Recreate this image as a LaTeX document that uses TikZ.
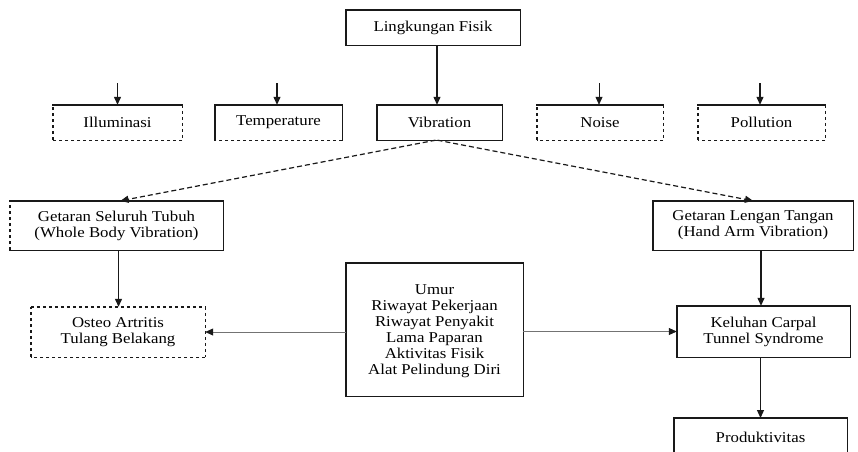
\documentclass[tikz,border=0pt]{standalone}
\usepackage{fontspec}
\setmainfont{Liberation Serif}[FakeStretch=1.12]
\usetikzlibrary{arrows.meta}

% draw the four sides of a node with separate styles: top, right, bottom, left
\newcommand\boxsides[5]{%
  \draw[#2] (#1.north west) -- (#1.north east);
  \draw[#3] (#1.north east) -- (#1.south east);
  \draw[#4] (#1.south east) -- (#1.south west);
  \draw[#5] (#1.south west) -- (#1.north west);
}

\tikzset{
  lbl/.style={inner sep=0pt, align=center, font=\fontsize{15}{16}\selectfont, text=black},
  sol/.style={line width=1.4pt, line cap=rect, draw=black!90},
  thk/.style={line width=2.2pt, line cap=rect, draw=black!90},
  dsh/.style={line width=1.4pt, dash pattern=on 3.5pt off 2.5pt, draw=black!90},
  arr/.style={line width=1.2pt, draw=black!90, -{Triangle[length=8pt,width=7pt]}},
  darr/.style={line width=1.2pt, draw=black!90, dash pattern=on 5pt off 3pt, -{Triangle[length=8pt,width=7pt]}},
  garr/.style={line width=0.7pt, draw=black!55, -{Triangle[length=8pt,width=7pt,color=black!90]}},
}

\begin{document}
\begin{tikzpicture}[x=1pt, y=-1pt]
\useasboundingbox (0,0) rectangle (858,451);
\fill[white] (0,0) rectangle (858,451);

% boxes
\node[lbl, minimum width=174pt, minimum height=35pt] (lf) at (433,27.5) {Lingkungan Fisik};
\node[lbl, minimum width=129pt, minimum height=35pt] (il) at (117.5,122.5) {Illuminasi};
\node[lbl, minimum width=127pt, minimum height=35pt] (te) at (278.5,122.5) {Temperature};
\node[lbl, minimum width=125pt, minimum height=35pt] (vi) at (439.5,122.5) {Vibration};
\node[lbl, minimum width=126pt, minimum height=35pt] (no) at (600,122.5) {Noise};
\node[lbl, minimum width=127pt, minimum height=35pt] (po) at (761.5,122.5) {Pollution};

\node[lbl, minimum width=213pt, minimum height=49pt] (gs) at (116.5,225.5) {Getaran Seluruh Tubuh\\(Whole Body Vibration)};
\node[lbl, minimum width=200pt, minimum height=49pt] (gl) at (753,225.5) {Getaran Lengan Tangan\\(Hand Arm Vibration)};

\node[lbl, minimum width=174pt, minimum height=50pt] (os) at (118,332) {Osteo Artritis\\Tulang Belakang};
\node[lbl, minimum width=177pt, minimum height=133pt] (cb) at (434.5,329.5) {};
\node[lbl] (cbt) at (434.5,331.5)
  {Umur\\Riwayat Pekerjaan\\Riwayat Penyakit\\Lama Paparan\\Aktivitas Fisik\\Alat Pelindung Diri};
\node[lbl, minimum width=173pt, minimum height=51pt] (ke) at (763.5,331.5) {Keluhan Carpal\\Tunnel Syndrome};
\node[lbl, minimum width=173pt, minimum height=52pt, anchor=north] (pr) at (760.5,418) {};
\node[lbl] (prt) at (760.5,437) {Produktivitas};

% borders
\boxsides{lf}{sol}{sol}{sol}{thk}
\boxsides{il}{sol}{dsh}{dsh}{dsh}
\boxsides{te}{sol}{sol}{dsh}{sol}
\boxsides{vi}{sol}{sol}{sol}{sol}
\boxsides{no}{sol}{dsh}{dsh}{dsh}
\boxsides{po}{sol}{dsh}{dsh}{dsh}
\boxsides{gs}{sol}{sol}{sol}{dsh}
\boxsides{gl}{sol}{sol}{sol}{sol}
\boxsides{os}{dsh}{dsh}{dsh}{dsh}
\boxsides{cb}{sol}{sol}{sol}{thk}
\boxsides{ke}{sol}{sol}{sol}{sol}
\boxsides{pr}{sol}{sol}{sol}{sol}

% incoming stubs above the factor boxes
\coordinate (ilin) at (117.5,83);
\coordinate (tein) at (277,83);
\coordinate (noin) at (599,83);
\coordinate (poin) at (760,83);
\draw[arr] (ilin) -- (ilin |- il.north);
\draw[arr] (tein) -- (tein |- te.north);
\draw[arr, line width=0.7pt] (noin) -- (noin |- no.north);
\draw[arr] (poin) -- (poin |- po.north);

% connectors
\draw[arr] ([xshift=4pt]lf.south) -- ([xshift=4pt]lf.south |- vi.north);
\draw[darr] ([xshift=-4pt]vi.south) -- ([xshift=4pt]gs.north);
\draw[darr] ([xshift=-2pt]vi.south) -- (gl.north);
\draw[arr] ([xshift=2pt]gs.south) -- ([xshift=2pt]gs.south |- os.north);
\draw[arr] ([xshift=8pt]gl.south) -- ([xshift=8pt]gl.south |- ke.north);
\draw[garr] (cb.west |- os.east) -- (os.east);
\draw[garr] (cb.east |- ke.west) -- (ke.west);
\draw[arr] (pr.north |- ke.south) -- (pr.north);
\end{tikzpicture}
\end{document}
